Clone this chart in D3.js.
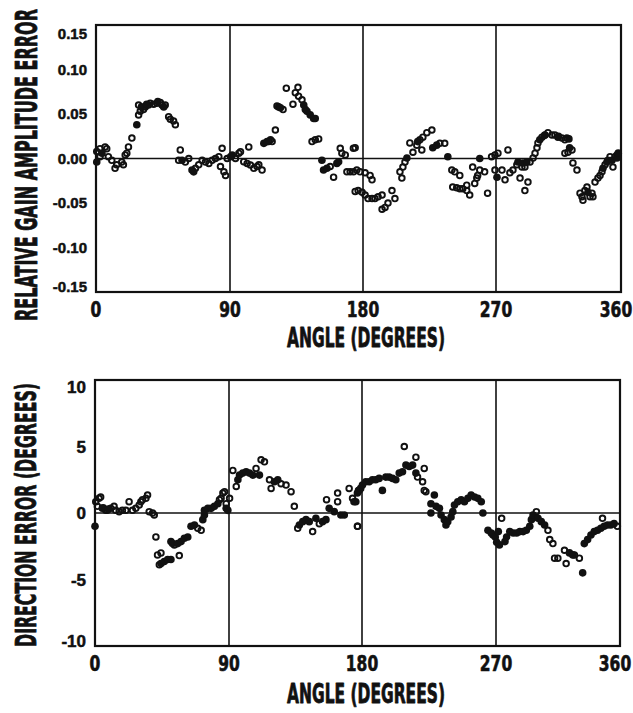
<!DOCTYPE html>
<html>
<head>
<meta charset="utf-8">
<script src="https://cdn.jsdelivr.net/npm/d3@7"></script>
<style>
  html, body { margin: 0; padding: 0; background: #fff; }
  svg { display: block; }
  text { font-family: "Liberation Sans Narrow", "DejaVu Sans Condensed", "Arial Narrow", sans-serif; font-weight: bold; fill: #111; stroke: #111; stroke-linejoin: round; }
</style>
</head>
<body>
<svg id="chart" width="633" height="713"></svg>
<script>
// ---- data: antenna pattern errors vs. rotation angle ----
const angleTicks = [0, 90, 180, 270, 360];
const gainTicks = [0.15, 0.10, 0.05, 0.00, -0.05, -0.10, -0.15];
const gainTickLabels = ["0.15", "0.10", "0.05", "0.00", "-0.05", "-0.10", "-0.15"];
const dirTicks = [10, 5, 0, -5, -10];
const dirTickLabels = ["10", "5", "0", "-5", "-10"];

// relative gain amplitude error: [angle (deg), error]
const gainOpen = [
  [0.5,0.008],[2.7,0.011],[6.1,0.013],[7.2,0.011],[2.7,0.002],[8.3,0.002],[10.6,-0.002],[12.8,-0.011],[13.9,-0.007],[17.3,-0.004],[18.4,-0.007],[19.6,0.004],[20.7,0.006],
  [21.8,0.013],[24.1,0.023],[28.6,0.049],[28.6,0.060],[29.7,0.053],[31.9,0.055],[33.1,0.058],[35.3,0.060],[36.4,0.062],[38.7,0.061],[40.9,0.062],[43.2,0.063],[44.3,0.060],[46.5,0.060],[48.8,0.047],[49.9,0.044],[52.1,0.042],[53.3,0.038],
  [56.6,0.0096],[55.5,-0.002],[60,-0.004],[62.3,0],[66.8,-0.011],[69,-0.007],[71.3,-0.002],[73.5,-0.004],[75.8,-0.0055],[78,-0.002],[80.2,0],[82.5,0.002],[84.7,0.0115],[83.6,-0.009],[85.9,-0.015],[87,-0.019],[88.1,0],[90.4,0.002],[93.7,0],[96,0.006],[97.1,0.0077],
  [99.3,-0.0036],[101.6,-0.0055],[102.7,0.013],[103.8,-0.0073],[106.1,-0.011],[108.3,-0.009],[109.5,-0.007],[111.7,-0.013],[116.2,0.019],[117.4,0.021],[118.5,0.019],[120.7,0.032],
  [121.8,0.059],[125.9,0.055],[128.1,0.079],[132.6,0.061],[134.2,0.074],[136,0.080],[136.4,0.070],[138.7,0.066],[147.7,0.045],
  [145.5,0.019],[147.7,0.021],[150,0.022],
  [157.8,-0.009],[160.1,-0.021],[164.6,0.0115],[165.7,0.006],[168,0.004],[173.5,0.0115],[169.1,-0.015],[171.3,-0.015],[173.6,-0.015],[175.8,-0.013],[174.7,-0.037],
  [176.7,-0.036],[179.4,-0.038],[181.4,-0.041],[183.4,-0.045],[186.1,-0.045],[188.1,-0.045],[190.2,-0.043],[192.9,-0.041],[192.9,-0.057],[194.9,-0.055],[196.9,-0.050],[199.6,-0.036],[201.6,-0.045],[205,-0.015],[206.3,-0.022],
  [178,-0.015],[181.4,-0.016],[184.8,-0.019],[186.1,-0.024],[174.7,0.012],
  [207,-0.0096],[208.4,-0.004],[211.7,0.0175],[213.8,0.007],[216.4,0.015],[218.5,0.021],[220.5,0.024],[223.2,0.029],[226.6,0.032],[219.8,0.0096],
  [232,0.017],[235.3,0.017],
  [240.1,-0.013],[242.1,-0.015],[245.5,-0.019],[240.7,-0.032],[243.4,-0.033],[245.5,-0.034],[247.5,-0.034],[250.2,-0.030],[250.2,-0.036],[252.2,-0.041],
  [254.2,-0.0096],[257,-0.022],[257.6,-0.019],[255.6,-0.028],[259,-0.013],[262.3,-0.015],[264.3,-0.039],
  [267,0.002],[269.3,0.004],[269.3,-0.013],[271.4,0.006],[274.3,-0.013],[276.5,-0.024],[278.6,0.0096],
  [280,-0.016],[282.2,-0.013],[285,-0.007],[287.3,-0.022],[288.7,-0.0096],[290.8,-0.0096],[293,-0.0265],[290.8,-0.036],
  [294.5,-0.004],[296.7,0.0006],[298.1,0.006],[299.5,0.012],[300.2,0.0175],[303.1,0.024],[305.3,0.0265],[307.4,0.029],[310.3,0.0265],[312.4,0.0265],[314.6,0.024],[317.4,0.023],[319.6,0.021],[321,0.023],[319.6,0.006],[321.8,0.007],[324.7,0.0096],
  [325.4,-0.005],[328.3,-0.013],
  [330.5,-0.039],[331.9,-0.043],[332.6,-0.047],[334,-0.036],[335.5,-0.032],[337.7,-0.043],[339.1,-0.039],[339.8,-0.043],[341.3,-0.0265],[343.4,-0.022],[344.9,-0.019],[346.3,-0.015],[348.5,-0.007],[350.6,-0.002],[352.1,0.002],[354.2,-0.0096],[355.7,0.002],[357.1,0.004]
];
const gainFilled = [
  [0.5,-0.004],[4,0.006],[27.4,0.038],[30.5,0.058],[34,0.061],[41.5,0.064],[45.5,0.058],[57.8,-0.002],[64.5,-0.013],[65.6,-0.015],[91.5,0.004],
  [112.9,0.017],[115.1,0.019],[122.9,0.058],[124.1,0.057],[139.9,0.060],[141,0.055],[142.1,0.053],[144.3,0.049],[146.6,0.045],
  [152.2,-0.002],[153.3,-0.013],[155.6,-0.011],[162.3,-0.0055],[163.5,-0.0036],
  [209.7,0.0006],[217,0.019],[227.2,0.012],[229.9,0.015],[237.4,0.002],[259,0],[270.7,-0.021],[285.8,-0.004],[289.4,-0.005],[292.2,-0.004],
  [301.5,0.021],[305,0.026],[315,0.025],[322.5,0.022],[323,0.012],[336.2,-0.038],[347,-0.011],[349.9,-0.004],[353.5,-0.002],[357.1,0.0006],[358,0.006]
];

// direction error (degrees): [angle (deg), error]
const dirOpen = [
  [0.5,0.85],[2.7,1.1],[3.8,1.2],[1.6,0.5],[4.9,0.35],[7.2,0.2],[8.3,0.2],[10.6,0.35],[12.8,0.5],[13.9,0.2],[16.2,0.1],[18.4,0.2],[20.7,0.2],[22.9,0.85],[25.2,0.2],[27.4,0.35],[29.7,0.6],[30.8,0.85],[31.9,1.0],[34.2,1.1],[35.3,1.35],[36.4,0.1],[38.7,0],[39.8,-0.15],
  [40.9,-1.8],[42,-3.15],[44.3,-3.0],[43.2,-3.9],[56.6,-3.2],[53.3,-2.4],[69,-1.15],[71.3,-1.3],[83.6,1.0],[84.7,1.1],[85.9,1.5],[87,1.6],[88.1,0.7],[90.4,1.1],
  [92.6,3.2],[94.9,2.0],[108.3,3.35],[111.7,4.0],[114,3.85],[117.4,2.5],[118.5,1.85],[125.2,2.2],[128.6,2.1],[132,1.6],[134.2,0.5],
  [136.5,-1.15],[146.6,-1.4],[151.1,-0.8],[156,1.0],[163.5,1.5],[163.5,0.85],[171.3,1.85],[173.6,1.1],[177,-1.0],[177.6,1.7],
  [176.9,-1.0],[208.4,5.0],[216.2,4.2],[221.8,3.35],[217.3,2.7],[220.7,2.35],[221.8,1.7],[222.9,1.6],
  [274.1,-0.4],[299.3,0.1],[307.7,-1.3],[309,-2.0],[311.3,-2.3],[312.5,-3.4],[314.9,-3.4],[319.7,-2.8],[320.9,-3.8],[326.9,-3.15],[330.5,-3.4],[347.3,-0.4],[358.1,-1.0]
];
const dirFilled = [
  [0,-1.0],[5.5,0.4],[9,0.3],[44.3,-3.8],[46.5,-3.65],[48.8,-3.5],[51,-3.5],[51,-2.15],[52.1,-2.3],[55.5,-2.3],[57.8,-2.15],[60,-1.9],[62.3,-1.8],[64.5,-1.0],[66.8,-0.9],
  [72.4,-0.5],[73.5,-0.15],[73.5,0.2],[75.8,0.35],[78,0.35],[80.2,0.5],[82.5,0.7],[88.1,0.35],[89.2,0.2],
  [96,2.5],[97.1,2.85],[99.3,3.0],[101.6,3.1],[103.8,3.0],[106.1,2.85],[110.6,2.85],[120.7,2.35],[123,2.5],
  [137.6,-0.9],[139.9,-0.65],[142.1,-0.5],[144.3,-0.65],[148.8,-0.4],[153.3,-0.65],[155.6,-0.5],[157.8,0.35],[161.2,0.1],[165.7,-0.15],[168,-0.15],[175.8,0.85],
  [174.6,0.85],[176.9,1.5],[178,1.7],[179.1,1.85],[180.3,2.1],[182.5,2.35],[184.8,2.35],[187,2.5],[189.2,2.5],[191.5,2.6],[193.7,1.7],[196,2.7],[198.2,2.7],[200.5,2.6],[202.7,2.5],[205,3.0],[207.2,3.1],[209.5,3.6],[211.7,3.5],[214,3.6],[216.2,3.0],
  [228.6,1.35],[226.3,0.7],[226.3,0],[229.7,0.5],[232,0.35],[233.1,-0.15],[235.3,-0.5],[236.4,-0.9],[237.6,-0.65],[239.8,-0.3],[241,0.1],[242.1,0.6],[244.3,0.85],[246.6,1.0],[248.8,0.85],[251.1,1.1],[253.3,1.35],[255.6,1.2],[257.8,1.1],[260.1,0.85],[261.2,0],
  [264.6,-1.3],[266.8,-1.5],[268,-1.65],[269.5,-1.8],[271.7,-1.4],[270.5,-2.2],[272.5,-2.4],[276.5,-2.15],[277.7,-1.8],[280,-1.4],[282.5,-1.5],[285,-1.5],[287.3,-1.4],[289.7,-1.4],[292,-1.3],[294.5,-1.0],[295.7,-0.5],[296.9,-0.15],[300.5,-0.4],[302.9,-0.65],[305.3,-0.9],
  [323.3,-3.0],[325.7,-3.15],[332.9,-4.5],[334.1,-2.3],[336.5,-2.0],[338.9,-1.65],[341.3,-1.4],[343.7,-1.3],[346.1,-1.15],[348.5,-1.0],[350.9,-0.9],[353.3,-0.9],[355.7,-0.8]
];

// ---- drawing ----
const svg = d3.select("#chart");

// heavy condensed lettering: horizontally scale a text about its anchor
function condense(sel, x, y, rotate, widthOrFactor, isFactor) {
  sel.each(function () {
    const w = this.getComputedTextLength();
    const s = isFactor ? widthOrFactor : widthOrFactor / w;
    d3.select(this).attr("transform",
      `translate(${x},${y})${rotate ? ` rotate(${rotate})` : ""} scale(${s},1)`);
  });
}

function panel(cfg) {
  const { left, right, top, bottom } = cfg.box;
  // the printed angle grid is slightly uneven, so map each quadrant separately
  const x = d3.scaleLinear().domain(angleTicks).range(cfg.xRange);
  const y = d3.scaleLinear().domain(cfg.yDomain).range([bottom, top]);
  const g = svg.append("g");

  // vertical grid at 90/180/270
  g.selectAll("line.grid").data(angleTicks.slice(1, -1)).join("line")
    .attr("x1", d => x(d)).attr("x2", d => x(d))
    .attr("y1", top).attr("y2", bottom)
    .attr("stroke", "#111").attr("stroke-width", 1.6);
  // zero line
  g.append("line")
    .attr("x1", left).attr("x2", right).attr("y1", y(0)).attr("y2", y(0))
    .attr("stroke", "#111").attr("stroke-width", 1.6);
  // frame
  g.append("rect")
    .attr("x", left).attr("y", top).attr("width", right - left).attr("height", bottom - top)
    .attr("fill", "none").attr("stroke", "#111").attr("stroke-width", 2.2);

  // markers
  g.selectAll("circle.open").data(cfg.open).join("circle")
    .attr("cx", d => x(d[0])).attr("cy", d => y(d[1])).attr("r", 2.8)
    .attr("fill", "none").attr("stroke", "#111").attr("stroke-width", 1.9);
  g.selectAll("circle.filled").data(cfg.filled).join("circle")
    .attr("cx", d => x(d[0])).attr("cy", d => y(d[1])).attr("r", 3.8)
    .attr("fill", "#111");

  // angle tick labels
  angleTicks.forEach((d, i) => {
    const t = g.append("text")
      .attr("text-anchor", "middle")
      .attr("font-size", 21)
      .attr("stroke-width", 0.6)
      .text(d);
    condense(t, x(d) + (i === angleTicks.length - 1 ? -5 : 0), bottom + 24.5, 0, 0.82, true);
  });

  // value tick labels, kept inside the frame at the extremes
  g.selectAll("text.yt").data(cfg.yTicks).join("text")
    .attr("x", cfg.yLabelX)
    .attr("y", d => Math.max(top + cfg.clampTop, Math.min(bottom - 5, y(d))))
    .attr("dy", "0.36em")
    .attr("text-anchor", "end")
    .attr("font-size", cfg.yFont.size)
    .attr("stroke-width", 0.5)
    .style("font-family", cfg.yFont.family)
    .text((d, i) => cfg.yTickLabels[i]);

  // axis titles
  const xt = g.append("text")
    .attr("text-anchor", "middle").attr("font-size", 27)
    .attr("stroke-width", 0.8)
    .text("ANGLE (DEGREES)");
  condense(xt, 366, bottom + cfg.xTitleDy, 0, 158, false);

  const yt = g.append("text")
    .attr("text-anchor", "middle").attr("font-size", cfg.yTitle.size)
    .attr("stroke-width", 0.8)
    .text(cfg.yTitle.text);
  condense(yt, cfg.yTitle.x, cfg.yTitle.cy, -90, cfg.yTitle.len, false);
}

panel({
  box: { left: 96, right: 621, top: 25, bottom: 292 },
  xRange: [96, 230, 363, 496, 621],
  yDomain: [-0.15, 0.15],
  yTicks: gainTicks, yTickLabels: gainTickLabels,
  yLabelX: 87, clampTop: 9,
  yFont: { size: 15, family: '"Liberation Sans", Arial, sans-serif' },
  open: gainOpen, filled: gainFilled,
  xTitleDy: 55,
  yTitle: { x: 37, cy: 165, size: 30, len: 312, text: "RELATIVE GAIN AMPLITUDE ERROR" }
});

panel({
  box: { left: 95, right: 620, top: 380, bottom: 646 },
  xRange: [95, 229, 362, 496, 620],
  yDomain: [-10, 10],
  yTicks: dirTicks, yTickLabels: dirTickLabels,
  yLabelX: 86, clampTop: 7,
  yFont: { size: 17, family: '"Liberation Sans Narrow", "Arial Narrow", sans-serif' },
  open: dirOpen, filled: dirFilled,
  xTitleDy: 57,
  yTitle: { x: 36, cy: 515, size: 28, len: 264, text: "DIRECTION ERROR (DEGREES)" }
});
</script>
</body>
</html>
